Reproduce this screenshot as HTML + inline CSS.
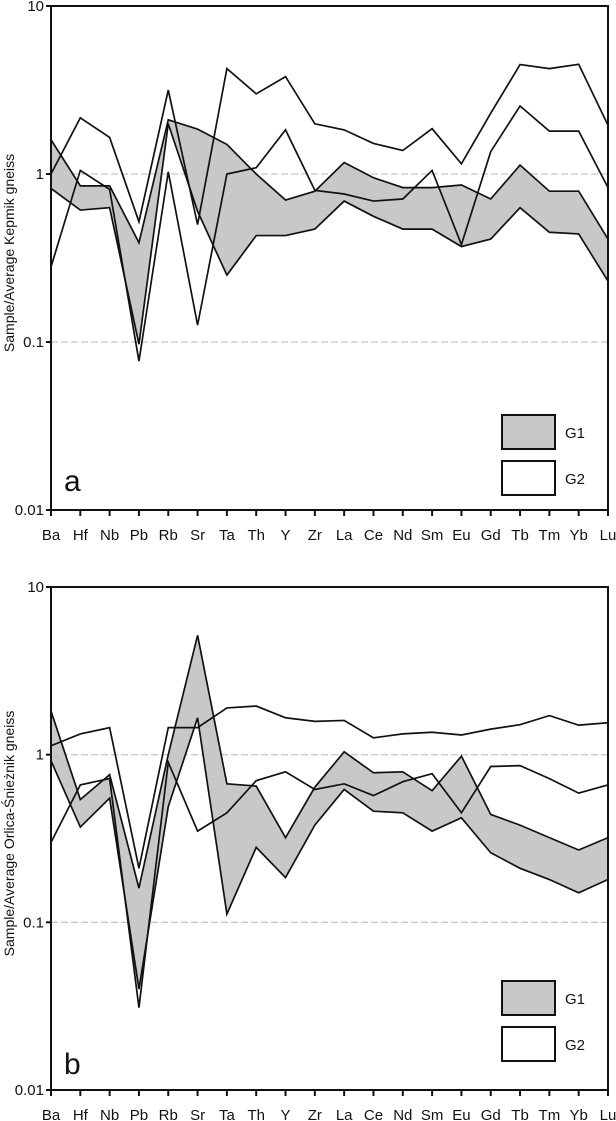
<!DOCTYPE html>
<html><head><meta charset="utf-8">
<style>
html,body{margin:0;padding:0;background:#fff;}
svg{display:block;font-family:"Liberation Sans",Arial,sans-serif;}
</style></head>
<body>
<svg id="chart" width="616" height="1121" viewBox="0 0 616 1121" xmlns="http://www.w3.org/2000/svg"></svg>
<script>
const categories = ["Ba","Hf","Nb","Pb","Rb","Sr","Ta","Th","Y","Zr","La","Ce","Nd","Sm","Eu","Gd","Tb","Tm","Yb","Lu"];
const yTickValues = [10,1,0.1,0.01];
const yTickLabels = ["10","1","0.1","0.01"];
// Panel a
const aG1Upper = [1.6,0.85,0.85,0.39,2.1,1.85,1.5,1.0,0.7,0.79,1.17,0.95,0.83,0.83,0.86,0.71,1.13,0.79,0.79,0.41];
const aG1Lower = [0.82,0.61,0.63,0.097,1.99,0.6,0.25,0.43,0.43,0.47,0.69,0.56,0.47,0.47,0.37,0.41,0.63,0.45,0.44,0.23];
const aG2LineA = [1.0,2.16,1.65,0.52,3.16,0.5,4.24,3.0,3.8,1.99,1.83,1.52,1.38,1.86,1.15,2.3,4.48,4.24,4.5,1.95];
const aG2LineB = [0.28,1.05,0.81,0.077,1.03,0.126,1.0,1.09,1.83,0.8,0.76,0.69,0.71,1.05,0.38,1.36,2.54,1.8,1.8,0.83];
// Panel b
const bG1Upper = [1.82,0.54,0.76,0.16,1.0,5.15,0.67,0.65,0.32,0.64,1.04,0.78,0.79,0.61,0.98,0.44,0.38,0.32,0.27,0.32];
const bG1Lower = [0.92,0.37,0.55,0.040,0.49,1.66,0.112,0.28,0.185,0.38,0.62,0.46,0.45,0.35,0.42,0.26,0.21,0.18,0.15,0.18];
const bG2LineA = [1.13,1.33,1.45,0.21,1.45,1.45,1.9,1.95,1.66,1.58,1.6,1.26,1.33,1.36,1.31,1.42,1.51,1.71,1.5,1.55];
const bG2LineB = [0.30,0.66,0.72,0.031,0.90,0.35,0.45,0.70,0.79,0.62,0.67,0.57,0.69,0.77,0.45,0.85,0.86,0.72,0.59,0.66];

const NS="http://www.w3.org/2000/svg";
const svg=document.getElementById('chart');
function mk(tag,attrs,parent){const e=document.createElementNS(NS,tag);for(const k in attrs)e.setAttribute(k,attrs[k]);(parent||svg).appendChild(e);return e;}

function panel(cfg){
  const L=51,R=608,T=cfg.top,B=cfg.bottom;
  const g=mk('g',{});
  
  
  const xs=i=>L+i*(R-L)/(categories.length-1);
  const ys=v=>T+(1-Math.log10(v))*(B-T)/3;
  [1,0.1].forEach(v=>{
    const l=mk('line',{x1:L,x2:R,y1:ys(v),y2:ys(v),stroke:'#c8c8c8','stroke-width':1.3,'stroke-dasharray':'7,3'},g);
    
    
  });
  const pts=cfg.up.map((v,i)=>xs(i)+','+ys(v)).concat(cfg.lo.map((v,i)=>[i,v]).reverse().map(([i,v])=>xs(i)+','+ys(v)));
  const band=mk('polygon',{points:pts.join(' '),fill:'#c8c8c8',stroke:'none'},g);
  
  
  [[cfg.up,'g1-upper-line'],[cfg.lo,'g1-lower-line'],[cfg.a,'g2-line-a'],[cfg.b,'g2-line-b']].forEach(([arr,nm])=>{
    const p=mk('polyline',{points:arr.map((v,i)=>xs(i)+','+ys(v)).join(' '),fill:'none',stroke:'#111','stroke-width':1.7,'stroke-linejoin':'miter'},g);
    
    
  });
  const fr=mk('rect',{x:L,y:T,width:R-L,height:B-T,fill:'none',stroke:'#111','stroke-width':2},g);
  
  
  yTickValues.forEach((v,i)=>{
    mk('line',{x1:L-5,x2:L,y1:ys(v),y2:ys(v),stroke:'#111','stroke-width':2},g);
    const t=mk('text',{x:L-7,y:ys(v)+5,'text-anchor':'end','font-size':15,fill:'#111'},g);
    t.textContent=yTickLabels[i];
    
    
  });
  categories.forEach((c,i)=>{
    mk('line',{x1:xs(i),x2:xs(i),y1:B,y2:B+6,stroke:'#111','stroke-width':2},g);
    const t=mk('text',{x:xs(i),y:B+30,'text-anchor':'middle','font-size':15,fill:'#111'},g);
    t.textContent=c;
    
    
  });
  const cy=(T+B)/2-5;
  const yt=mk('text',{x:14,y:cy,transform:'rotate(-90 14 '+cy+')','text-anchor':'middle','font-size':14,fill:'#111'},g);
  yt.textContent=cfg.title;
  
  
  const pl=mk('text',{x:64,y:cfg.letterY,'font-size':30,fill:'#111'},g);
  pl.textContent=cfg.letter;
  
  
  const lg=mk('g',{},g);
  
  
  const e1=mk('rect',{x:502,y:cfg.leg1,width:53,height:34,fill:'#c8c8c8',stroke:'#111','stroke-width':2},lg);
  
  
  const t1=mk('text',{x:565,y:cfg.leg1+23,'font-size':15,fill:'#111'},lg);
  t1.textContent='G1';
  
  
  const e2=mk('rect',{x:502,y:cfg.leg2,width:53,height:34,fill:'#fff',stroke:'#111','stroke-width':2},lg);
  
  
  const t2=mk('text',{x:565,y:cfg.leg2+23,'font-size':15,fill:'#111'},lg);
  t2.textContent='G2';
  
  
}
panel({name:'panel-a',top:6,bottom:510,up:aG1Upper,lo:aG1Lower,a:aG2LineA,b:aG2LineB,title:'Sample/Average Kepmik gneiss',letter:'a',letterY:491,leg1:415,leg2:461});
panel({name:'panel-b',top:587,bottom:1090,up:bG1Upper,lo:bG1Lower,a:bG2LineA,b:bG2LineB,title:'Sample/Average Orlica-Śnieżnik gneiss',letter:'b',letterY:1074,leg1:981,leg2:1027});
</script>
</body></html>
